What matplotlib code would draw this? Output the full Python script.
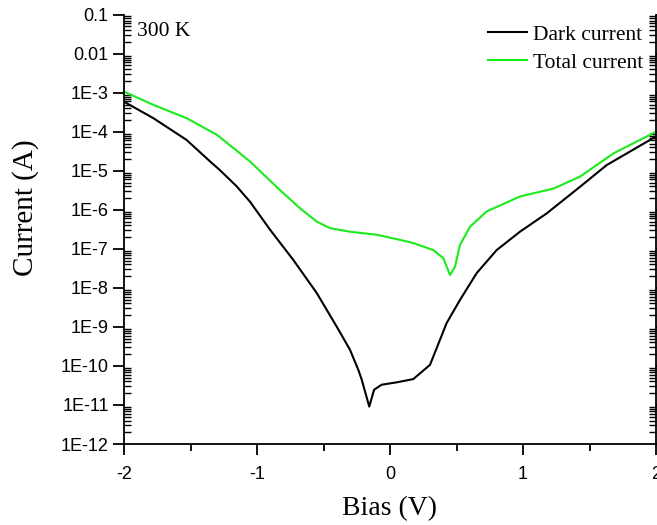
import matplotlib
matplotlib.use("Agg")
import matplotlib.pyplot as plt
from matplotlib.ticker import LogLocator, NullFormatter, MultipleLocator

# ---- data ----
dark_bias = [-2.0, -1.78, -1.53, -1.353, -1.28, -1.153, -1.053, -0.902, -0.727, -0.551,
             -0.401, -0.301, -0.238, -0.213, -0.156, -0.120, -0.063, 0.050, 0.175, 0.301,
             0.426, 0.526, 0.652, 0.802, 0.977, 1.178, 1.429, 1.629, 2.0]
dark_current = [5.9e-4, 2.24e-4, 6.2e-5, 1.74e-5, 1.05e-5, 4.0e-6, 1.62e-6, 3.1e-7, 5.2e-8, 7.4e-9,
                1.02e-9, 2.6e-10, 7.9e-11, 4.5e-11, 9.1e-12, 2.45e-11, 3.3e-11, 3.8e-11, 4.6e-11, 1.07e-10,
                1.26e-9, 4.9e-9, 2.4e-8, 9.3e-8, 2.75e-7, 8.1e-7, 3.9e-6, 1.4e-5, 7.6e-5]

total_bias = [-2.0, -1.78, -1.53, -1.30, -1.053, -0.827, -0.677, -0.551, -0.451, -0.301,
              -0.10, 0.075, 0.175, 0.326, 0.401, 0.451, 0.489, 0.526, 0.602, 0.727,
              0.977, 1.228, 1.429, 1.68, 2.0]
total_current = [1.07e-3, 4.9e-4, 2.24e-4, 8.3e-5, 1.74e-5, 3.2e-6, 1.10e-6, 5.0e-7, 3.4e-7, 2.75e-7,
                 2.3e-7, 1.7e-7, 1.41e-7, 9.3e-8, 5.75e-8, 2.14e-8, 3.5e-8, 1.26e-7, 3.7e-7, 9.1e-7,
                 2.2e-6, 3.5e-6, 7.1e-6, 2.8e-5, 1.0e-4]

ytick_vals = [1e-12, 1e-11, 1e-10, 1e-9, 1e-8, 1e-7, 1e-6, 1e-5, 1e-4, 1e-3, 1e-2, 1e-1]
ytick_labels = ["1E-12", "1E-11", "1E-10", "1E-9", "1E-8", "1E-7", "1E-6", "1E-5", "1E-4", "1E-3", "0.01", "0.1"]
xtick_vals = [-2, -1, 0, 1, 2]
xtick_labels = ["-2", "-1", "0", "1", "2"]

serif = ["Liberation Serif", "DejaVu Serif"]
sans = ["Liberation Sans", "DejaVu Sans"]

fig = plt.figure(figsize=(6.57, 5.25), dpi=100)
ax = fig.add_axes([124 / 657, 81 / 525, 532 / 657, 429.3 / 525])

ax.plot(dark_bias, dark_current, color="black", lw=1.5, label="Dark current")
ax.plot(total_bias, total_current, color="#1aeb1a", lw=1.5, label="Total current")

ax.set_yscale("log")
ax.set_xlim(-2, 2)
ax.set_ylim(1e-12, 1e-1)

ax.set_yticks(ytick_vals)
ax.set_yticklabels(ytick_labels, fontfamily=sans, fontsize=13)
ax.yaxis.set_minor_locator(LogLocator(base=10, subs=range(2, 10), numticks=100))
ax.yaxis.set_minor_formatter(NullFormatter())
ax.set_xticks(xtick_vals)
ax.set_xticklabels(xtick_labels, fontfamily=sans, fontsize=13)
ax.xaxis.set_minor_locator(MultipleLocator(0.5))

for s in ["left", "bottom", "right"]:
    ax.spines[s].set_linewidth(1.3)
ax.spines["top"].set_visible(False)

ax.tick_params(axis="y", which="major", direction="out", length=8, width=1.3, right=True, left=True, pad=3)
ax.tick_params(axis="y", which="minor", direction="in", length=5, width=1.0, right=True, left=True)
ax.tick_params(axis="x", which="major", direction="out", length=8, width=1.3, top=False, pad=8)
ax.tick_params(axis="x", which="minor", direction="out", length=5, width=1.3, top=False)

ax.set_xlabel("Bias (V)", fontfamily=serif, fontsize=20, va="center")
ax.xaxis.set_label_coords(0.5, -0.151)
ax.set_ylabel("Current (A)", fontfamily=serif, fontsize=21, va="center")
ax.yaxis.set_label_coords(-0.186, 0.55)

ax.text(0.024, 0.983, "300 K", transform=ax.transAxes, fontfamily=serif, fontsize=15.5,
        va="top", ha="left")

leg = ax.legend(loc="upper right", bbox_to_anchor=(0.976, 0.977), frameon=False,
                prop={"family": serif, "size": 15.5}, handlelength=1.8, handletextpad=0.3,
                labelspacing=0.38, borderaxespad=0.0, borderpad=0.0)

fig.savefig("out.png", dpi=100)
